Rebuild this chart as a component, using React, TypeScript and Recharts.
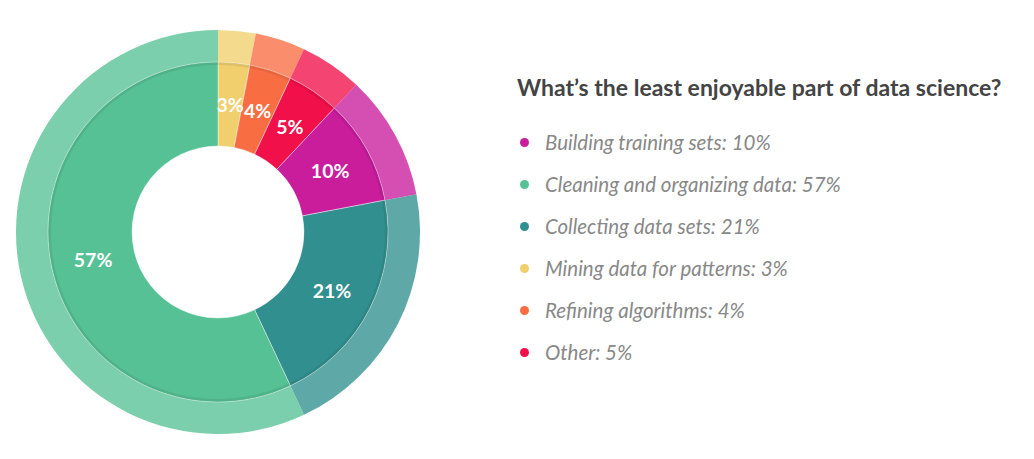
import * as React from 'react';
import { PieChart, Pie, Cell } from 'recharts';

// slice order, clockwise from 12 o'clock
const sliceNames = [
  'Mining data for patterns',
  'Refining algorithms',
  'Other',
  'Building training sets',
  'Collecting data sets',
  'Cleaning and organizing data',
];
const sliceValues = [3, 4, 5, 10, 21, 57];
const sliceColors = ['#f0cf6c', '#f96d42', '#f1104a', '#c91d9c', '#31908f', '#56c195'];

// legend order as shown on the right
const legendOrder = [
  'Building training sets',
  'Cleaning and organizing data',
  'Collecting data sets',
  'Mining data for patterns',
  'Refining algorithms',
  'Other',
];

const TITLE = 'What\u2019s the least enjoyable part of data science?';

const data = sliceNames.map((name, i) => ({ name, value: sliceValues[i], color: sliceColors[i] }));

const RADIAN = Math.PI / 180;

const renderLabel = (props: any) => {
  const { cx, cy, midAngle, innerRadius, outerRadius, value } = props;
  const r = (innerRadius + outerRadius) / 2;
  const x = cx + r * Math.cos(-midAngle * RADIAN);
  const y = cy + r * Math.sin(-midAngle * RADIAN);
  return (
    <text
      x={x}
      y={y}
      fill="#fff"
      textAnchor="middle"
      dominantBaseline="central"
      style={{ fontFamily: 'Lato', fontWeight: 700, fontSize: 19.5 }}
    >
      {`${value}%`}
    </text>
  );
};

function LegendBox() {
  return (
    <div style={{ position: 'absolute', left: 517, top: 73, fontFamily: 'Lato' }}>
      <div style={{ fontSize: 23, fontWeight: 700, color: '#444', marginBottom: 20, whiteSpace: 'nowrap' }}>
        {TITLE}
      </div>
      {legendOrder.map((name) => {
        const d = data.find((x) => x.name === name)!;
        return (
          <div key={name} style={{ display: 'flex', alignItems: 'center', height: 42 }}>
            <span
              style={{
                width: 9,
                height: 9,
                borderRadius: '50%',
                background: d.color,
                marginLeft: 3,
                marginRight: 16,
              }}
            />
            <span style={{ fontSize: 20.5, fontStyle: 'italic', color: '#888', whiteSpace: 'nowrap' }}>
              {`${name}: ${d.value}%`}
            </span>
          </div>
        );
      })}
    </div>
  );
}

export default function App() {
  return (
    <div style={{ position: 'absolute', left: 0, top: 0, width: 1034, height: 459, background: '#fff' }}>
      <PieChart width={1034} height={459} margin={{ top: 0, right: 0, bottom: 0, left: 0 }}>
        {/* lighter outer ring */}
        <Pie
          data={data}
          dataKey="value"
          cx={218}
          cy={232}
          innerRadius={170}
          outerRadius={202}
          startAngle={90}
          endAngle={-270}
          stroke="none"
          isAnimationActive={false}
        >
          {data.map((d, i) => (
            <Cell key={`o-${i}`} fill={d.color} fillOpacity={0.78} />
          ))}
        </Pie>
        {/* main donut */}
        <Pie
          data={data}
          dataKey="value"
          cx={218}
          cy={232}
          innerRadius={86}
          outerRadius={170}
          startAngle={90}
          endAngle={-270}
          stroke="#ffffff"
          strokeWidth={0.4}
          label={renderLabel}
          labelLine={false}
          isAnimationActive={false}
        >
          {data.map((d, i) => (
            <Cell key={`i-${i}`} fill={d.color} />
          ))}
        </Pie>
        {/* soft shadow at ring joint */}
        <Pie
          data={data}
          dataKey="value"
          cx={218}
          cy={232}
          innerRadius={167}
          outerRadius={170}
          startAngle={90}
          endAngle={-270}
          stroke="none"
          fill="#000"
          fillOpacity={0.07}
          isAnimationActive={false}
        />
      </PieChart>
      <LegendBox />
    </div>
  );
}
